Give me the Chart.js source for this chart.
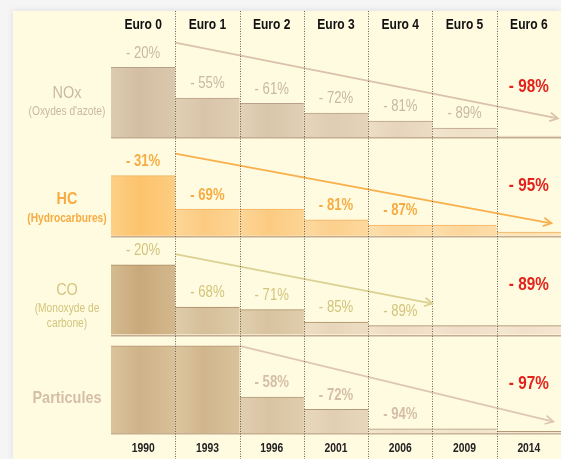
<!DOCTYPE html>
<html lang="fr">
<head>
<meta charset="UTF-8">
<title>Normes Euro : réduction des émissions</title>
<script src="https://cdn.jsdelivr.net/npm/chart.js"></script>
<style>
  html, body { margin: 0; padding: 0; }
  body { width: 561px; height: 459px; background: #f5f5f5; overflow: hidden; position: relative; }
  .panel {
    position: absolute; left: 13px; top: 11px; width: 548px; height: 448px;
    background: #fffbe1; box-shadow: 0 0 7px rgba(0, 0, 0, 0.10);
  }
  canvas { display: block; }
</style>
</head>
<body>
<div class="panel"><canvas id="euro" width="548" height="448"></canvas></div>
<script>
// Arial Narrow n'est pas disponible : on compresse Liberation Sans horizontalement
const FONT = "'Liberation Sans', Arial, sans-serif";

const normes = ['Euro 0', 'Euro 1', 'Euro 2', 'Euro 3', 'Euro 4', 'Euro 5', 'Euro 6'];
const annees = ['1990', '1993', '1996', '2001', '2006', '2009', '2014'];

// baisse des émissions (%) pour chaque norme
const reductionNOx = [20, 55, 61, 72, 81, 89, 98];
const reductionHC  = [31, 69, 69, 81, 87, 87, 95];
const reductionCO  = [20, 68, 71, 85, 89, 89, 89];
const reductionPM  = [0, 0, 58, 72, 94, 94, 97];

// flèches de tendance (x = rang de la norme, y = % restant)
const tendanceNOx = [{ x: 0.5, y: 108 }, { x: 6.45, y: 22 }];
const tendanceHC  = [{ x: 0.5, y: 94 }, { x: 6.35, y: 15 }];
const tendanceCO  = [{ x: 0.5, y: 92 }, { x: 4.5, y: 36 }];
const tendancePM  = [{ x: 1.5, y: 100 }, { x: 6.38, y: 14 }];

const POS_ROUGE = 57;   // hauteur des chiffres Euro 6

const lignes = [
  { id: 'yNOx', titre: 'NOx', sous: ["(Oxydes d'azote)"], reduction: reductionNOx, tendance: tendanceNOx,
    posTitre: 40, texte: '#c9b8a3', gras: false, bord: '#b9a189', fleche: '#dac3aa',
    barres: ['#d3bea2', '#d8c4a9', '#d9c6ab', '#dfccb2', '#e6d5bc', '#efe0c8', '#f3e6d0'] },
  { id: 'yHC', titre: 'HC', sous: ['(Hydrocarbures)'], reduction: reductionHC, tendance: tendanceHC,
    posTitre: 31, texte: '#f6ac42', gras: true, bord: '#f3b35e', fleche: '#f7b04b',
    barres: ['#fcc36c', '#fccb82', '#fccb82', '#fcd08e', '#fcd69c', '#fcd69c', '#fde0b0'] },
  { id: 'yCO', titre: 'CO', sous: ['(Monoxyde de', 'carbone)'], reduction: reductionCO, tendance: tendanceCO,
    posTitre: 32, texte: '#d3c47c', gras: false, bord: '#a88c66', fleche: '#dbd193',
    barres: ['#c9a97b', '#d6bf9a', '#d9c3a0', '#e8d6bb', '#eedcc4', '#efdec7', '#f1e1cb'] },
  { id: 'yPM', titre: 'Particules', sous: [], reduction: reductionPM, tendance: tendancePM,
    posTitre: 41, texte: '#d5bea7', gras: true, bord: '#b29a78', fleche: '#dfc7b1',
    barres: ['#cfb388', '#d1b68c', '#d9c3a2', '#e2cfb2', '#efe0c8', '#f0e2cb', '#f2e5d0'] }
];

function melange(hex, t) {
  const n = parseInt(hex.slice(1), 16);
  const c = [(n >> 16) & 255, (n >> 8) & 255, n & 255];
  const fond = [255, 251, 225];
  const m = c.map((v, i) => Math.round(v + (fond[i] - v) * t));
  return `rgb(${m[0]},${m[1]},${m[2]})`;
}

// dégradé horizontal : bords plus clairs, centre plus soutenu
function degrade(ctx, couleur) {
  const chart = ctx.chart;
  const xs = chart.scales.x;
  if (!chart.chartArea || !xs) return couleur;
  const demi = xs.width / normes.length / 2;
  const c = xs.getPixelForValue(ctx.dataIndex);
  const g = chart.ctx.createLinearGradient(c - demi, 0, c + demi, 0);
  g.addColorStop(0, melange(couleur, 0.22));
  g.addColorStop(0.45, couleur);
  g.addColorStop(1, melange(couleur, 0.18));
  return g;
}

// texte « étroit » : police normale écrasée en largeur
function ecrire(ctx, txt, x, y, taille, gras, couleur, ech) {
  ctx.save();
  ctx.translate(x, y);
  ctx.scale(ech || 0.82, 1);
  ctx.font = `${gras ? 'bold ' : ''}${taille}px ${FONT}`;
  ctx.fillStyle = couleur;
  ctx.textAlign = 'center';
  ctx.textBaseline = 'middle';
  ctx.fillText(txt, 0, 0);
  ctx.restore();
}

const affiche = (red, i) => i === red.length - 1 || (red[i] > 0 && (i === 0 || red[i] !== red[i - 1]));

const jeux = [];
lignes.forEach(l => {
  jeux.push({
    type: 'bar', label: l.titre, xAxisID: 'x', yAxisID: l.id,
    data: l.reduction.map(v => 100 - v),
    backgroundColor: ctx => degrade(ctx, l.barres[ctx.dataIndex]),
    borderColor: l.bord,
    borderWidth: { top: 1, left: 0, right: 0, bottom: 0 },
    barPercentage: 1, categoryPercentage: 1, grouped: false, order: 1
  });
});
lignes.forEach(l => {
  jeux.push({
    type: 'line', label: l.titre + ' tendance', xAxisID: 'xt', yAxisID: l.id,
    data: l.tendance, borderColor: l.fleche, borderWidth: 1.8,
    pointRadius: 0, fill: false, tension: 0, clip: false, order: 0
  });
});

const axeLigne = () => ({
  type: 'linear', position: 'right', stack: 'lignes', stackWeight: 1,
  min: 0, max: 112, bounds: 'data',
  ticks: { display: false, stepSize: 8 },
  border: { display: false },
  grid: {
    drawTicks: false, lineWidth: 1.5,
    color: c => (c.tick && c.tick.value === 0 ? '#c4ad92' : 'rgba(0,0,0,0)')
  }
});

const separateurs = {
  id: 'separateurs',
  afterDatasetsDraw(chart) {
    const { ctx, scales: { x } } = chart;
    ctx.save();
    ctx.strokeStyle = 'rgba(70, 60, 50, 0.8)';
    ctx.lineWidth = 1;
    ctx.setLineDash([1, 1.5]);
    for (let i = 0; i < normes.length - 1; i++) {
      const px = Math.round((x.getPixelForValue(i) + x.getPixelForValue(i + 1)) / 2) + 0.5;
      ctx.beginPath();
      ctx.moveTo(px, 0);
      ctx.lineTo(px, chart.height);
      ctx.stroke();
    }
    ctx.restore();
  }
};

const annotations = {
  id: 'annotations',
  afterDraw(chart) {
    const { ctx, chartArea, scales: { x } } = chart;

    // normes en haut, années en bas
    normes.forEach((n, i) => {
      const px = x.getPixelForValue(i);
      ecrire(ctx, n, px, 14, 14, true, '#111', 0.86);
      ecrire(ctx, annees[i], px, chartArea.bottom + 15, 12, true, '#222', 0.86);
    });

    lignes.forEach((l, k) => {
      const ys = chart.scales[l.id];
      const barres = chart.getDatasetMeta(k);
      const trait = chart.getDatasetMeta(k + lignes.length);

      // pourcentages au-dessus des barres
      barres.data.forEach((el, i) => {
        if (!affiche(l.reduction, i)) return;
        const txt = '- ' + l.reduction[i] + '%';
        if (i === normes.length - 1) {
          ecrire(ctx, txt, el.x, ys.getPixelForValue(POS_ROUGE), 18, true, '#e3231b', 0.85);
        } else {
          ecrire(ctx, txt, el.x, el.y - 14, 16, l.gras, l.texte);
        }
      });

      // pointe de flèche
      const pts = trait.data;
      const b = pts[pts.length - 1], a = pts[pts.length - 2];
      const ang = Math.atan2(b.y - a.y, b.x - a.x);
      ctx.save();
      ctx.strokeStyle = l.fleche;
      ctx.lineWidth = 1.8;
      ctx.beginPath();
      ctx.moveTo(b.x - 9 * Math.cos(ang - 0.5), b.y - 9 * Math.sin(ang - 0.5));
      ctx.lineTo(b.x, b.y);
      ctx.lineTo(b.x - 9 * Math.cos(ang + 0.5), b.y - 9 * Math.sin(ang + 0.5));
      ctx.stroke();
      ctx.restore();

      // titre de la ligne, dans la marge gauche
      const cx = chartArea.left / 2 + 5;
      const decal = [0];
      l.sous.forEach((s, j) => decal.push(19 + j * 15));
      const y0 = ys.getPixelForValue(l.posTitre) - decal[decal.length - 1] / 2;
      ecrire(ctx, l.titre, cx, y0, 17, l.gras, l.texte, 0.85);
      l.sous.forEach((s, j) => ecrire(ctx, s, cx, y0 + decal[j + 1], 12, l.gras, l.texte, 0.85));
    });
  }
};

new Chart(document.getElementById('euro'), {
  type: 'bar',
  data: { labels: normes, datasets: jeux },
  options: {
    responsive: false,
    animation: false,
    devicePixelRatio: 1,
    layout: { padding: { left: 98, right: 0, top: 0, bottom: 25 } },
    plugins: { legend: { display: false }, tooltip: { enabled: false } },
    scales: {
      x: {
        type: 'category', labels: normes, position: 'top', offset: true,
        grid: { display: false }, border: { display: false },
        ticks: { display: false },
        afterFit: s => { s.height = 28; }
      },
      xt: {
        type: 'linear', display: false, offset: false,
        min: -0.5, max: 6.5, bounds: 'data', ticks: { stepSize: 0.5 }
      },
      yNOx: axeLigne(),
      yHC: axeLigne(),
      yCO: axeLigne(),
      yPM: axeLigne()
    }
  },
  plugins: [separateurs, annotations]
});
</script>
</body>
</html>
